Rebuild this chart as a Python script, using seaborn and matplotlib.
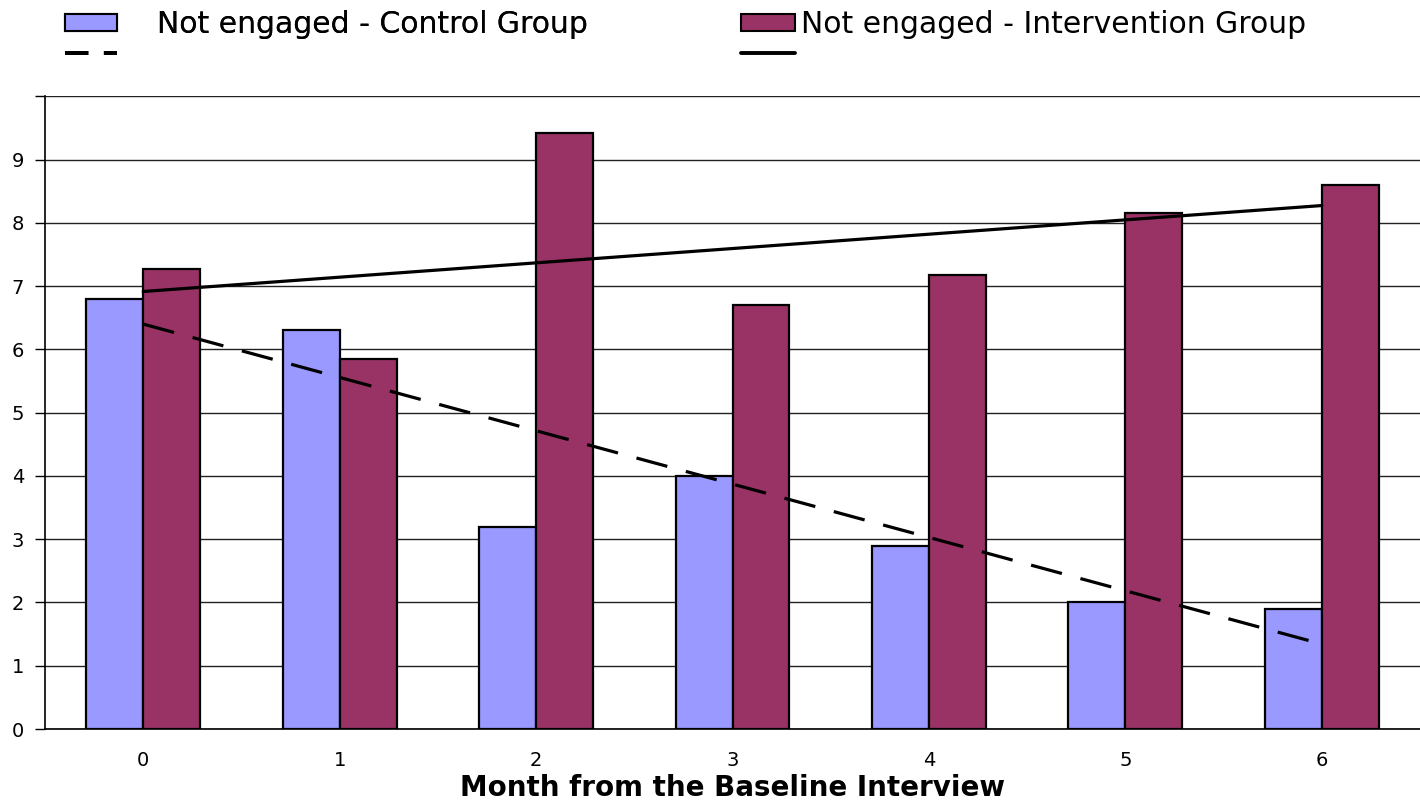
import numpy as np
import pandas as pd
import matplotlib
matplotlib.use("Agg")
import matplotlib.pyplot as plt
import seaborn as sns
from matplotlib.patches import Patch
from matplotlib.lines import Line2D

# Data: months since baseline and mean "not engaged" scores per group
months = [0, 1, 2, 3, 4, 5, 6]
control = [6.8, 6.3, 3.2, 4.0, 2.9, 2.0, 1.9]
intervention = [7.27, 5.85, 9.42, 6.7, 7.17, 8.15, 8.6]
group_labels = ["Not engaged - Control Group", "Not engaged - Intervention Group"]
colors = ["#9999FF", "#993366"]

df = pd.DataFrame({
    "month": months * 2,
    "value": control + intervention,
    "group": [group_labels[0]] * len(months) + [group_labels[1]] * len(months),
})

sns.set_theme(style="white")
plt.rcParams["font.family"] = ["DejaVu Sans"]
plt.rcParams["text.color"] = "black"
plt.rcParams["axes.labelcolor"] = "black"

fig = plt.figure(figsize=(14.2, 8.06), dpi=100)
ax = fig.add_axes([0.0317, 0.0955, 0.9683, 0.785])

sns.barplot(data=df, x="month", y="value", hue="group", palette=colors,
            saturation=1, width=0.58, edgecolor="black", linewidth=1.6, ax=ax,
            legend=False, zorder=3)

# Linear trend lines for each group
trend_df_c = pd.DataFrame({"x": months, "y": control})
trend_df_i = pd.DataFrame({"x": months, "y": intervention})
sns.regplot(data=trend_df_c, x="x", y="y", scatter=False, ci=None, ax=ax,
            line_kws=dict(color="black", lw=2.3, dashes=(10, 6), zorder=4))
sns.regplot(data=trend_df_i, x="x", y="y", scatter=False, ci=None, ax=ax,
            line_kws=dict(color="black", lw=2.3, zorder=4))

ax.set_xlim(-0.5, 6.5)
ax.set_ylim(0, 10)
ax.set_yticks(range(0, 11))
ax.set_yticklabels([str(i) for i in range(0, 10)] + [""])
ax.yaxis.grid(True, color="#222222", lw=1.0, zorder=0)
ax.set_axisbelow(True)

ax.set_xticks(months)
ax.set_xticklabels([str(m) for m in months])
ax.set_xticks(np.arange(-0.5, 7.0, 1.0), minor=True)
ax.tick_params(axis="x", which="major", length=0, pad=16, labelsize=14, labelcolor="black")
ax.tick_params(axis="x", which="minor", length=8, width=1, direction="out", color="black")
ax.tick_params(axis="y", which="major", length=7, width=1, direction="out",
               labelsize=14, pad=8, color="black", labelcolor="black", left=True)

for side in ["top", "right"]:
    ax.spines[side].set_visible(False)
for side in ["left", "bottom"]:
    ax.spines[side].set_visible(True)
    ax.spines[side].set_color("black")
    ax.spines[side].set_linewidth(1.2)

ax.set_xlabel("Month from the Baseline Interview", fontsize=20, fontweight="bold",
              labelpad=3, color="black")
ax.set_ylabel("")

# Legend: each group shows its bar swatch with its trend line below
leg1 = fig.legend(
    handles=[Patch(facecolor=colors[0], edgecolor="black", lw=1.5),
             Line2D([0], [0], color="black", lw=2.8, dashes=(6, 4))],
    labels=[group_labels[0], " "],
    loc="upper left", bbox_to_anchor=(0.0458, 0.987), frameon=False,
    fontsize=21.5, handlelength=1.75, handleheight=0.5, handletextpad=1.33,
    labelspacing=0.0, borderpad=0, borderaxespad=0, labelcolor="black")
fig.add_artist(leg1)
fig.legend(
    handles=[Patch(facecolor=colors[1], edgecolor="black", lw=1.5),
             Line2D([0], [0], color="black", lw=2.8)],
    labels=[group_labels[1], " "],
    loc="upper left", bbox_to_anchor=(0.522, 0.987), frameon=False,
    fontsize=21.5, handlelength=1.8, handleheight=0.5, handletextpad=0.2,
    labelspacing=0.0, borderpad=0, borderaxespad=0, labelcolor="black")

fig.savefig("out.png", dpi=100, facecolor="white")
